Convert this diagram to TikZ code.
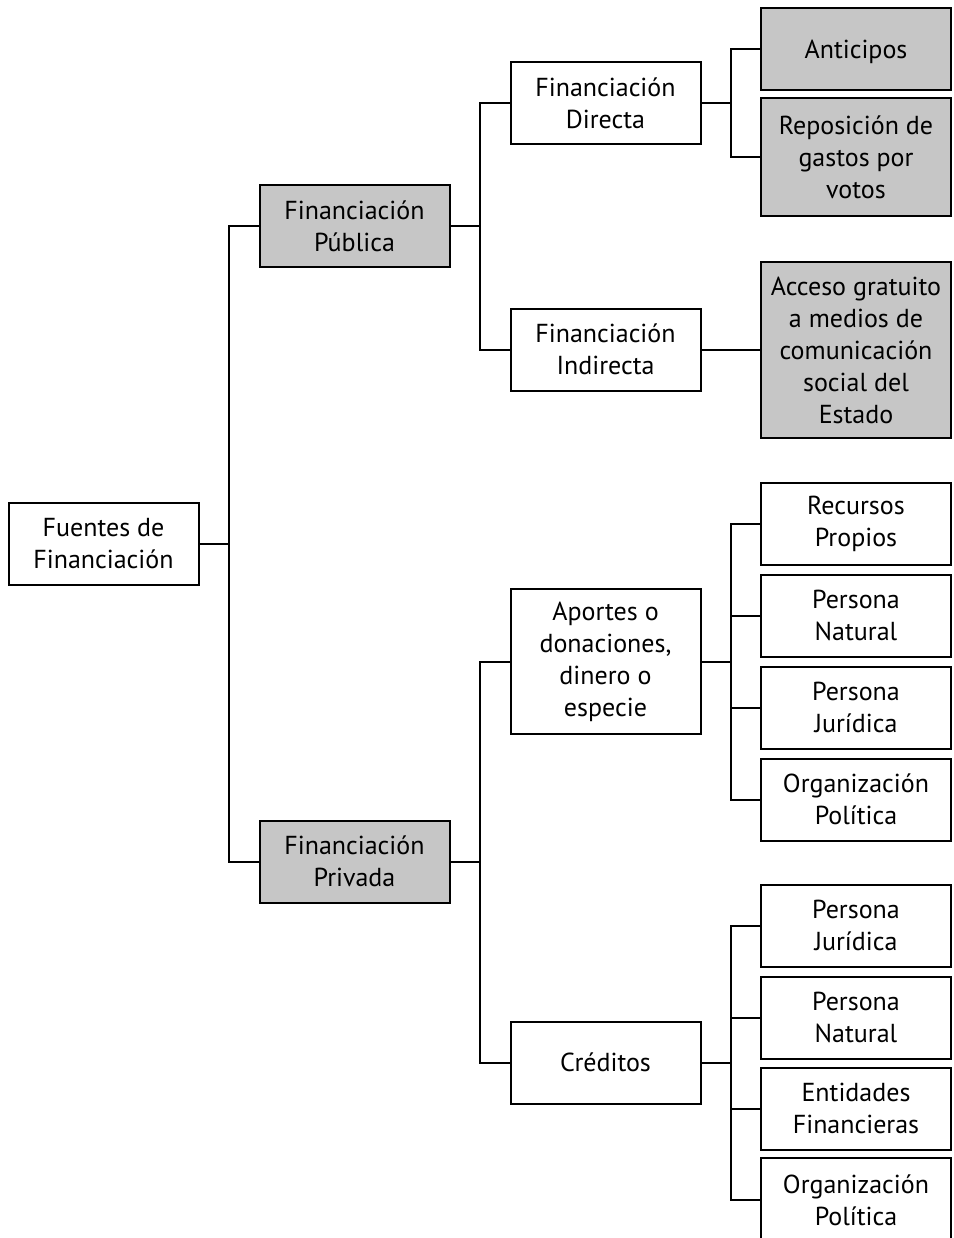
\documentclass[tikz,border=0pt]{standalone}
\usepackage{fontspec}
\setmainfont{PT Sans}
\begin{document}
\begin{tikzpicture}[x=1pt,y=-1pt,line width=2pt,
  caja/.style={draw,align=center,minimum width=190pt,minimum height=82pt,inner sep=2pt,outer sep=0pt,font=\fontsize{26}{32}\selectfont},
  gris/.style={caja,fill=gray!45}]
\useasboundingbox (0,0) rectangle (953,1238);
\node[caja] (f) at (103.5,544) {Fuentes de\\Financiación};
\node[gris] (pu) at (354.5,226.5) {Financiación\\Pública};
\node[gris] (pr) at (354.5,861.5) {Financiación\\Privada};
\node[caja] (d) at (605.5,103.5) {Financiación\\Directa};
\node[caja] (i) at (605.5,349.5) {Financiación\\Indirecta};
\node[caja,minimum height=145pt] (ap) at (605.5,661.5) {Aportes o\\donaciones,\\dinero o\\especie};
\node[caja,text depth=0pt] (cr) at (605.5,1062.5) {Créditos};
\node[gris,text depth=0pt] (an) at (856,49) {Anticipos};
\node[gris,minimum height=118pt] (re) at (856,157) {Reposición de\\gastos por\\votos};
\node[gris,minimum height=176pt] (ac) at (856,350) {Acceso gratuito\\a medios de\\comunicación\\social del\\Estado};
\node[caja] (rp) at (856,523.5) {Recursos\\Propios};
\node[caja] (pn1) at (856,615.5) {Persona\\Natural};
\node[caja] (pj1) at (856,707.5) {Persona\\Jurídica};
\node[caja] (op1) at (856,799.5) {Organización\\Política};
\node[caja] (pj2) at (856,925.5) {Persona\\Jurídica};
\node[caja] (pn2) at (856,1017.5) {Persona\\Natural};
\node[caja] (ef) at (856,1108.5) {Entidades\\Financieras};
\node[caja,minimum height=84pt] (op2) at (856,1200) {Organización\\Política};

% ramas
\draw (f.east) -- ++(30.5,0);
\draw (pu.west) -- ++(-30.5,0) |- (pr.west);
\draw (pu.east) -- ++(30.5,0);
\draw (d.west) -- ++(-30.5,0) |- (i.west);
\draw (d.east) -- ++(30.5,0);
\draw (an.west) -- ++(-30.5,0) |- (re.west);
\draw (i.east) -- (ac.west |- i.east);
\draw (pr.east) -- ++(30.5,0);
\draw (ap.west) -- ++(-30.5,0) |- (cr.west);
\draw (ap.east) -- ++(30.5,0);
\draw (rp.west) -- ++(-30.5,0) |- (op1.west);
\foreach \n in {pn1,pj1} \draw (\n.west) -- ++(-30.5,0);
\draw (cr.east) -- ++(30.5,0);
\draw (pj2.west) -- ++(-30.5,0) |- (op2.west);
\foreach \n in {pn2,ef} \draw (\n.west) -- ++(-30.5,0);
\end{tikzpicture}
\end{document}
